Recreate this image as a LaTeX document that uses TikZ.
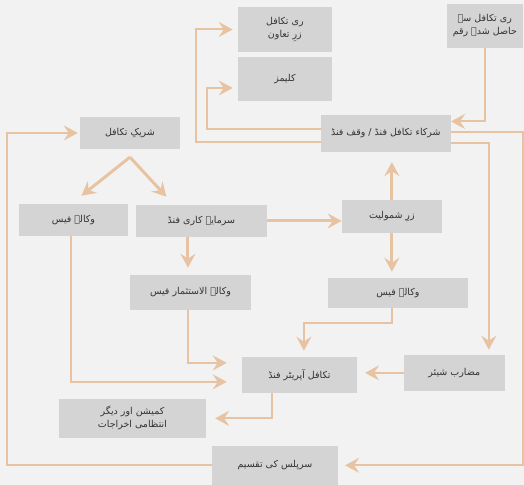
\documentclass[tikz,border=0pt]{standalone}
\usepackage{fontspec}
\usetikzlibrary{arrows.meta}
\TeXXeTstate=1
\newfontfamily\urdufont[Script=Arabic]{DejaVu Sans}
\newcommand{\urdu}[1]{{\urdufont\beginR #1\endR}}
\definecolor{bggray}{HTML}{F2F2F2}
\definecolor{boxgray}{HTML}{D4D4D4}
\definecolor{peach}{HTML}{E8C3A2}
\definecolor{txtgray}{HTML}{333333}

\begin{document}
\begin{tikzpicture}[
    x=1pt, y=-1pt,
    box/.style = {fill=boxgray, text=txtgray, inner sep=0pt,
                align=center, font=\fontsize{9.5}{13}\selectfont},
    flow/.style = {draw=peach, line width=2pt,
                -{Stealth[length=14pt, width=15pt, inset=5pt]}},
    bigflow/.style = {flow, line width=3pt}
                    ]
    \def\r{12pt}
    % background and frame of the picture
    \fill[bggray] (0,0) rectangle (524,485);

    \node[box, minimum width=94pt, minimum height=45pt] at (285,29.5) (rtz)
        {\urdu{ری تکافل}\\ \urdu{زرِ تعاون}};
    \node[box, minimum width=94pt, minimum height=44pt] at (285,79) (clm) {\urdu{کلیمز}};
    \node[box, minimum width=76pt, minimum height=44pt] at (485,26) (rtr)
        {\urdu{ری تکافل سے}\\ \urdu{حاصل شدہ رقم}};
    \node[box, minimum width=130pt, minimum height=37pt] at (386,133.5) (ptf)
        {\urdu{شرکاء تکافل فنڈ / وقف فنڈ}};
    \node[box, minimum width=100pt, minimum height=32pt] at (130,133) (shr) {\urdu{شریکِ تکافل}};
    \node[box, minimum width=109pt, minimum height=32pt] at (73.5,220) (wkl) {\urdu{وکالہ فیس}};
    \node[box, minimum width=131pt, minimum height=32pt] at (201.5,221) (inv) {\urdu{سرمایہ کاری فنڈ}};
    \node[box, minimum width=100pt, minimum height=33pt] at (392,216.5) (zsh) {\urdu{زرِ شمولیت}};
    \node[box, minimum width=121pt, minimum height=35pt] at (190.5,292.5) (wis)
        {\urdu{وکالۃ الاستثمار فیس}};
    \node[box, minimum width=140pt, minimum height=30pt] at (398,293) (wkr) {\urdu{وکالہ فیس}};
    \node[box, minimum width=101pt, minimum height=36pt] at (454.5,373) (mud) {\urdu{مضارب شیئر}};
    \node[box, minimum width=115pt, minimum height=36pt] at (299.5,375) (tof) {\urdu{تکافل آپریٹر فنڈ}};
    \node[box, minimum width=147pt, minimum height=39pt] at (132.5,418.5) (com)
        {\urdu{کمیشن اور دیگر}\\ \urdu{انتظامی اخراجات}};
    \node[box, minimum width=126pt, minimum height=39pt] at (275,465.5) (sur) {\urdu{سرپلس کی تقسیم}};

    % top part
    \draw[flow] (rtr.south) |- ([yshift=\r]ptf.east);
    \draw[flow, shorten >=5pt] ([yshift=-8.5pt]ptf.west) -| ([xshift=-42pt]rtz.west) -- (rtz.west);
    \draw[flow, shorten >=5pt] ([yshift=4.5pt]ptf.west) -| ([xshift=-31pt,yshift=-9pt]clm.west)
        -- ([yshift=-9pt]clm.west);
    \draw[flow, shorten >=7pt] ([yshift=1.5pt]ptf.east) -| ([xshift=185pt]sur.east) -- (sur.east);
    \draw[flow, shorten >=5pt] ([yshift=-9.5pt]ptf.east) -| ([xshift=34.5pt]mud.north);
    \draw[flow, shorten >=2pt] (sur.west) -| ([xshift=-73pt]shr.west) -- (shr.west);

    % participant and funds
    \draw[bigflow] ([yshift=-8pt]shr.south) -- ([xshift=8pt,yshift=8pt]wkl.north);
    \draw[bigflow] ([yshift=-8pt]shr.south) -- ([xshift=-35pt,yshift=8pt]inv.north);
    \draw[bigflow] (inv.east) -- (inv.east -| zsh.west);
    \draw[bigflow, shorten >=10pt] (zsh.north) -- (zsh.north |- ptf.south);
    \draw[bigflow, shorten >=6pt] (zsh.south) -- (zsh.south |- wkr.north);
    \draw[bigflow, shorten >=7pt] ([xshift=-13.5pt]inv.south) -- ([xshift=-13.5pt]inv.south |- wis.north);

    % into the operator fund
    \draw[flow, shorten >=15pt] ([xshift=-2.5pt]wis.south) |- ([yshift=\r]tof.west);
    \draw[flow, shorten >=15pt] ([xshift=-2.5pt]wkl.south) |- ([yshift=-7pt]tof.west);
    \draw[flow, shorten >=6pt] ([xshift=-6pt]wkr.south) |- ([xshift=4.5pt,yshift=34pt]tof.north)
        -- ([xshift=4.5pt]tof.north);
    \draw[flow, shorten >=8pt] (mud.west) -- (mud.west -| tof.east);
    \draw[flow, shorten >=9pt] ([xshift=-27.5pt]tof.south) |- (com.east);
\end{tikzpicture}
\end{document}
